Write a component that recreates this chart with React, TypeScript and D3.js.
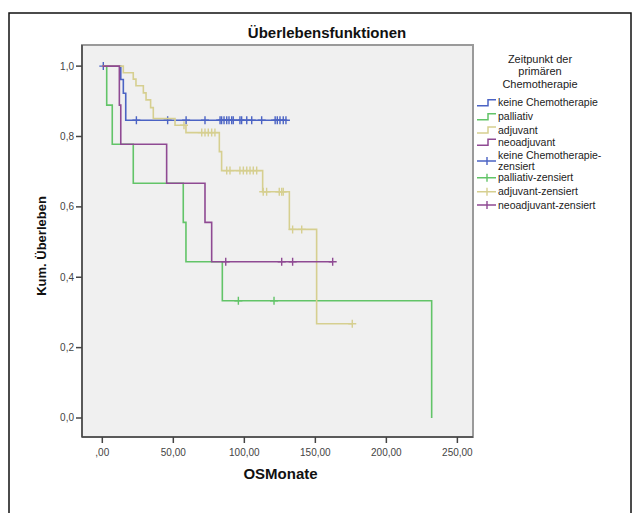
import React from 'react';
import * as d3 from 'd3';

const groups = ['keine Chemotherapie', 'palliativ', 'adjuvant', 'neoadjuvant'];
const colors = ['#4b63c4', '#62c468', '#d6cf90', '#8f4a93'];

// [time, survival after the event]
const keineEvents = [[13, 0.962], [14.8, 0.923], [16.5, 0.846]];
const keineCensored = [0.7, 24, 46, 59, 72.3, 82.9, 84, 85.7, 87.6, 89.2, 91.1, 92.2, 96.9, 98.1,
  101.7, 105.2, 112.2, 121.7, 123.2, 125.1, 127.4, 129.3];

const palliativEvents = [[3.1, 0.889], [7, 0.778], [21.8, 0.667], [57, 0.556], [58.9, 0.444],
  [84.5, 0.333], [231.9, 0]];
const palliativCensored = [95.8, 120.9];

const adjuvantEvents = [[14.8, 0.981], [21.8, 0.963], [23.7, 0.944], [28.9, 0.924], [30.8, 0.904],
  [34, 0.882], [35.9, 0.851], [51.2, 0.832], [58.9, 0.811], [82.4, 0.757], [84, 0.703],
  [112.9, 0.643], [131.7, 0.536], [150.9, 0.268]];
const adjuvantCensored = [57.5, 70, 72.3, 74.6, 77, 79.3, 87.6, 89.9, 96.9, 99.3, 101.7, 104,
  106.3, 108.7, 113.3, 115.7, 124.6, 126.3, 127.4, 134, 140.4, 176];

const neoEvents = [[12, 0.889], [13, 0.778], [45.3, 0.667], [72.3, 0.556], [77, 0.444]];
const neoCensored = [86.9, 126.3, 134, 162.2];

const legendTitle = ['Zeitpunkt der', 'primären', 'Chemotherapie'];
const legendLabels = ['keine Chemotherapie', 'palliativ', 'adjuvant', 'neoadjuvant',
  'keine Chemotherapie-|zensiert', 'palliativ-zensiert', 'adjuvant-zensiert', 'neoadjuvant-zensiert'];

const xTicks = [0, 50, 100, 150, 200, 250];
const yTicks = [0, 0.2, 0.4, 0.6, 0.8, 1.0];

const series = [
  { events: keineEvents, censored: keineCensored },
  { events: palliativEvents, censored: palliativCensored },
  { events: adjuvantEvents, censored: adjuvantCensored },
  { events: neoEvents, censored: neoCensored },
];

const font = "Arial, 'Liberation Sans', sans-serif";

export default function App() {
  const width = 637;
  const height = 513;
  const left = 82, right = 473, top = 45, bottom = 437;

  const x = d3.scaleLinear().domain([-14.3, 261]).range([left, right]);
  const y = d3.scaleLinear().domain([-0.054, 1.06]).range([bottom, top]);

  const line = d3.line<number[]>()
    .x(d => x(d[0]))
    .y(d => y(d[1]))
    .curve(d3.curveStepAfter);

  const survivalAt = (events: number[][], t: number) => {
    let s = 1;
    for (const e of events) if (e[0] <= t) s = e[1];
    return s;
  };

  const comma = (v: number, digits: number) => {
    const s = v.toFixed(digits).replace('.', ',');
    return s.startsWith('0,') && digits === 2 ? s.slice(1) : s;
  };

  const rowYs = [102.7, 116.7, 130, 142.3, 161, 177.7, 191.7, 205];

  return (
    <div style={{ position: 'absolute', left: 0, top: 0 }}>
      <svg width={width} height={height} style={{ display: 'block', fontFamily: font }}>
        <rect x={0} y={0} width={width} height={height} fill="white" />
        <rect x={9} y={13} width={622} height={520} fill="none" stroke="#111" strokeWidth={1.5} />

        <text x={327} y={38} textAnchor="middle" fontSize={15} fontWeight="bold" fill="#111">Überlebensfunktionen</text>

        <rect x={left} y={top} width={right - left} height={bottom - top} fill="#f0f0f0" stroke="#9a9a9a" strokeWidth={2} />
        <line x1={left} x2={left} y1={top} y2={bottom} stroke="#444" strokeWidth={1.5} />
        <line x1={left} x2={right} y1={bottom} y2={bottom} stroke="#444" strokeWidth={1.5} />

        <g key="y-axis">
          {yTicks.map(t => (
            <g key={`y-${t}`}>
              <line x1={left - 6} x2={left} y1={y(t)} y2={y(t)} stroke="#444" strokeWidth={1.5} />
              <text x={left - 8} y={y(t)} dy="0.35em" textAnchor="end" fontSize={10} fill="#444">{comma(t, 1)}</text>
            </g>
          ))}
        </g>
        <g key="x-axis">
          {xTicks.map(t => (
            <g key={`x-${t}`}>
              <line x1={x(t)} x2={x(t)} y1={bottom} y2={bottom + 6} stroke="#444" strokeWidth={1.5} />
              <text x={x(t)} y={bottom + 19} textAnchor="middle" fontSize={10} fill="#444">{comma(t, 2)}</text>
            </g>
          ))}
        </g>

        <text x={(left + right) / 2 + 3} y={479} textAnchor="middle" fontSize={15} fontWeight="bold" fill="#111">OSMonate</text>
        <text transform={`translate(46,${(top + bottom) / 2 + 5}) rotate(-90)`} textAnchor="middle" fontSize={13} fontWeight="bold" fill="#111">Kum. Überleben</text>

        <g key="curves">
          {series.map((s, i) => {
            const last = s.events[s.events.length - 1];
            const endT = Math.max(last[0], ...s.censored);
            const pts = [[0, 1], ...s.events];
            if (endT > last[0]) pts.push([endT, last[1]]);
            return (
              <g key={`curve-${groups[i]}`}>
                <path d={line(pts) ?? ''} fill="none" stroke={colors[i]} strokeWidth={1.6} />
                {s.censored.map((c, j) => {
                  const cx = x(c), cy = y(survivalAt(s.events, c));
                  return (
                    <path key={j} d={`M${cx - 4},${cy}H${cx + 4}M${cx},${cy - 4}V${cy + 4}`} stroke={colors[i]} strokeWidth={1.4} fill="none" />
                  );
                })}
              </g>
            );
          })}
        </g>

        <g key="legend" fill="#222">
          {legendTitle.map((t, i) => (
            <text key={t} x={540} y={62.6 + i * 12.7} textAnchor="middle" fontSize={11}>{t}</text>
          ))}
          {legendLabels.map((label, i) => {
            const rowY = rowYs[i];
            const c = colors[i % 4];
            const parts = label.split('|');
            return (
              <g key={`legend-${i}`}>
                {i < 4
                  ? <path d={`M477,${rowY + 3}H488V${rowY - 3}H496`} fill="none" stroke={c} strokeWidth={1.5} />
                  : <path d={`M477,${rowY}H496M487,${rowY - 4}V${rowY + 4}`} fill="none" stroke={c} strokeWidth={1.4} />}
                {parts.length === 1
                  ? <text x={498} y={rowY} dy="0.35em" fontSize={10.5}>{label}</text>
                  : <text x={498} y={rowY - 5.75} dy="0.35em" fontSize={10.5}>
                      <tspan x={498}>{parts[0]}</tspan>
                      <tspan x={498} dy={11.5}>{parts[1]}</tspan>
                    </text>}
              </g>
            );
          })}
        </g>
      </svg>
    </div>
  );
}
